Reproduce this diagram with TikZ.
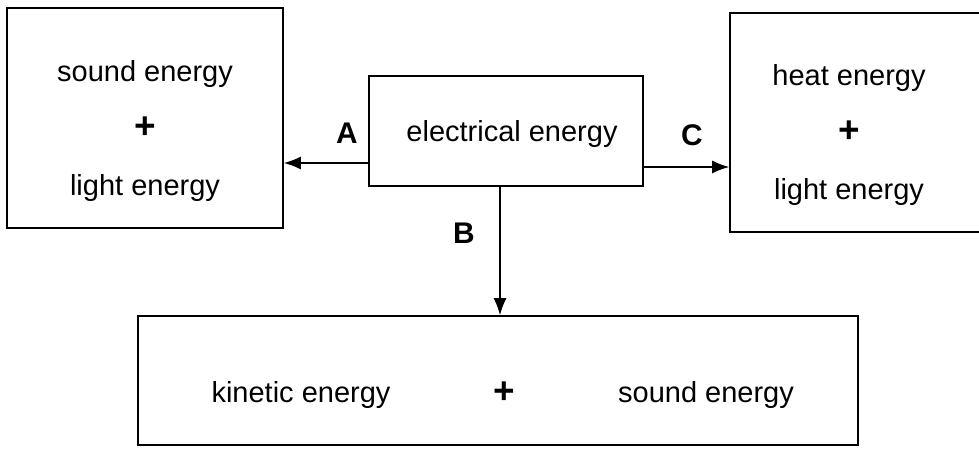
\documentclass[tikz,border=0pt]{standalone}
\usepackage{fontspec}
\setmainfont{Liberation Sans}
\usetikzlibrary{arrows.meta}

\begin{document}
\begin{tikzpicture}[
        >={Latex[length=3.4mm,width=2.6mm]},
        every node/.style={font=\fontsize{16.5}{20}\selectfont},
        ebox/.style={draw,line width=0.9pt,inner sep=0pt},
        etxt/.style={align=center,font=\fontsize{16.5}{32.4}\selectfont},
        plus/.style={font=\fontsize{21}{24}\selectfont\bfseries},
        lbl/.style={font=\fontsize{17}{20}\selectfont\bfseries},
        arr/.style={->,line width=0.9pt}
    ]
        \clip (0,0) rectangle (19.58,8.98);
        % boxes
        \node[ebox,minimum width=5.52cm,minimum height=4.4cm] (sl) at (2.9,6.62) {};
        \node[etxt] (sltxt) at (2.9,6.36) {sound energy\\{\fontsize{21}{24}\selectfont\bfseries +}\\light energy};
        \node[ebox,minimum width=5.48cm,minimum height=2.2cm] (el) at (10.12,6.36) {};
        \node (eltxt) at (10.24,6.3) {electrical energy};
        \node[ebox,minimum width=5.4cm,minimum height=4.38cm] (hl) at (17.3,6.53) {};
        \node[etxt] (hltxt) at (16.98,6.28) {heat energy\\{\fontsize{21}{24}\selectfont\bfseries +}\\light energy};
        \node[ebox,minimum width=14.4cm,minimum height=2.58cm] (ks) at (9.96,1.37) {};
        \node (kin) at (6.02,1.08) {kinetic energy};
        \node[plus] (kplus) at (10.08,1.12) {+};
        \node (snd) at (14.12,1.08) {sound energy};
        % arrows
        \coordinate (pa) at ([yshift=-0.64cm]el.west);
        \coordinate (pc) at ([yshift=-0.72cm]el.east);
        \coordinate (pb) at ([xshift=-0.12cm]el.south);
        \draw[arr] (pa) -- (pa -| sl.east);
        \draw[arr] (pc) -- (pc -| hl.west);
        \draw[arr] (pb) -- (pb |- ks.north);
        \node[lbl] (lA) at (6.94,6.32) {A};
        \node[lbl] (lB) at (9.28,4.32) {B};
        \node[lbl] (lC) at (13.84,6.28) {C};
    \end{tikzpicture}
\end{document}
